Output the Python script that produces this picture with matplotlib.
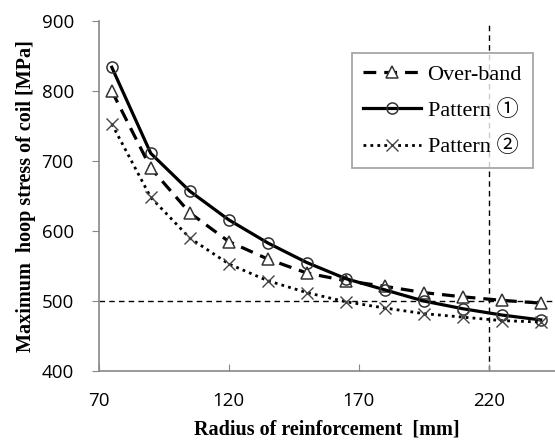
import matplotlib
matplotlib.use("Agg")
import matplotlib.pyplot as plt

# --- data ---
radius = [75, 90, 105, 120, 135, 150, 165, 180, 195, 210, 225, 240]
over_band = [800, 690, 626, 585, 560, 540, 529, 521, 512, 506, 501, 497]
pattern1 = [834, 711, 657, 616, 583, 555, 532, 516, 500, 489, 480, 473]
pattern2 = [753, 648, 590, 553, 529, 512, 499, 490, 482, 477, 472, 470]
xticks = [70, 120, 170, 220]
yticks = [400, 500, 600, 700, 800, 900]
ref_stress = 500
ref_radius = 220

serif = ["Liberation Serif", "Noto Sans CJK JP", "DejaVu Sans"]
tickfont = "Open Sans"

fig = plt.figure(figsize=(5.55, 4.43), dpi=100)
ax = fig.add_axes([0.178, 0.1625, 0.822, 0.79])

# reference lines
ax.axhline(ref_stress, color="black", lw=1, ls=(0, (4, 3)), zorder=1)
ax.axvline(ref_radius, color="black", lw=1, ls=(0, (4, 3)), zorder=1)

ax.plot(radius, over_band, color="black", lw=2.3, ls=(0, (4, 2.5)),
        marker="^", ms=8, mfc="white", mec="#333333", mew=1.1,
        label="Over-band", zorder=3)
ax.plot(radius, pattern1, color="black", lw=2.3, ls="-",
        marker="o", ms=8, mfc="none", mec="#333333", mew=1.1,
        label="Pattern \u2460", zorder=3)
ax.plot(radius, pattern2, color="black", lw=2, ls=(0, (1, 1.5)),
        marker="x", ms=8, mec="#444444", mew=1.0,
        label="Pattern \u2461", zorder=3)

ax.set_xlim(70, 245.5)
ax.set_ylim(400, 900)
ax.set_xticks(xticks)
ax.set_yticks(yticks)

for s in ["top", "right"]:
    ax.spines[s].set_visible(False)
for s in ["left", "bottom"]:
    ax.spines[s].set_color("#888888")
    ax.spines[s].set_linewidth(1.2)

ax.tick_params(axis="x", direction="in", length=5, color="#888888", pad=15)
ax.tick_params(axis="y", direction="out", length=5, color="#888888", pad=13)
for lab in ax.get_xticklabels() + ax.get_yticklabels():
    lab.set_fontfamily(tickfont)
    lab.set_fontsize(13.5)

ax.set_xlabel("Radius of reinforcement  [mm]", family=serif,
              fontweight="bold", fontsize=14.5, labelpad=7)
ax.set_ylabel("Maximum  hoop stress of coil [MPa]", family=serif,
              fontweight="bold", fontsize=14.5, labelpad=4)

leg = ax.legend(loc="upper right", bbox_to_anchor=(0.952, 0.909),
                borderaxespad=0,
                prop={"family": serif, "size": 16}, frameon=True,
                fancybox=False, edgecolor="#888888", handlelength=2.6,
                handletextpad=0.3, borderpad=0.5, labelspacing=0.7)
leg.get_frame().set_linewidth(1.2)

fig.savefig("out.png", dpi=100)
